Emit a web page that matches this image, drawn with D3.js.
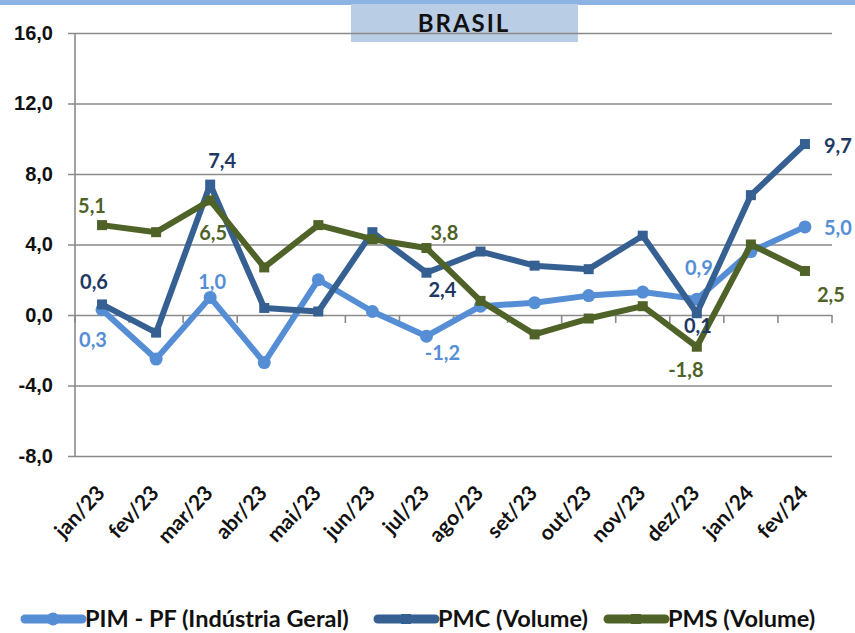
<!DOCTYPE html>
<html>
<head>
<meta charset="utf-8">
<script src="https://cdn.jsdelivr.net/npm/d3@7"></script>
<style>
  body { margin: 0; background: #fff; }
  svg { display: block; font-family: Lato, "Open Sans", sans-serif; }
</style>
</head>
<body>
<div id="chart"></div>
<script>
// monthly variation, Brasil
const months = ["jan/23","fev/23","mar/23","abr/23","mai/23","jun/23","jul/23",
                "ago/23","set/23","out/23","nov/23","dez/23","jan/24","fev/24"];
const pim = [0.3, -2.5, 1.0, -2.7, 2.0, 0.2, -1.2, 0.5, 0.7, 1.1, 1.3, 0.9, 3.6, 5.0];
const pmc = [0.6, -1.0, 7.4, 0.4, 0.2, 4.7, 2.4, 3.6, 2.8, 2.6, 4.5, 0.1, 6.8, 9.7];
const pms = [5.1, 4.7, 6.5, 2.7, 5.1, 4.3, 3.8, 0.8, -1.1, -0.2, 0.5, -1.8, 4.0, 2.5];
const yTicks = [-8, -4, 0, 4, 8, 12, 16];
const seriesNames = ["PIM - PF (Indústria Geral)", "PMC (Volume)", "PMS (Volume)"];

// which points get a value label, and where the label sits relative to the point
const labelSpots = [
  [{i: 0, dx: -9, dy: 37}, {i: 2, dx: 2, dy: -8}, {i: 6, dx: 16, dy: 24}, {i: 11, dx: 2, dy: -24}, {i: 13, dx: 33, dy: 8}],
  [{i: 0, dx: -8, dy: -15}, {i: 2, dx: 12, dy: -17}, {i: 6, dx: 16, dy: 24}, {i: 11, dx: 1, dy: 20}, {i: 13, dx: 33, dy: 9}],
  [{i: 0, dx: -10, dy: -12}, {i: 2, dx: 3, dy: 40}, {i: 6, dx: 18, dy: -8}, {i: 11, dx: -11, dy: 30}, {i: 13, dx: 26, dy: 31}]
];

const series = [
  {name: seriesNames[0], values: pim, color: "#558ed5", label: "#558ed5", marker: "circle"},
  {name: seriesNames[1], values: pmc, color: "#376092", label: "#1f3864", marker: "square"},
  {name: seriesNames[2], values: pms, color: "#4f6228", label: "#4f6228", marker: "square"}
];

const W = 855, H = 633;
const margin = {top: 33, right: 23, bottom: 177, left: 75};
const width = W - margin.left - margin.right;
const height = H - margin.top - margin.bottom;
const fmt = v => d3.format(".1f")(v).replace(".", ",").replace("−", "-");

const svg = d3.select("#chart").append("svg")
    .attr("width", W)
    .attr("height", H);

// top band + title box
svg.append("rect").attr("x", 0).attr("y", 0).attr("width", W).attr("height", 5).attr("fill", "#8db3e2");
svg.append("rect").attr("x", 351).attr("y", 4).attr("width", 227).attr("height", 38).attr("fill", "#b9cde5");
svg.append("text")
    .attr("x", 464).attr("y", 32)
    .attr("text-anchor", "middle")
    .attr("font-size", 24).attr("font-weight", "bold").attr("fill", "#111")
    .attr("letter-spacing", 2)
    .text("BRASIL");

const g = svg.append("g").attr("transform", `translate(${margin.left},${margin.top})`);

const x = d3.scaleBand().domain(months).range([0, width]);
const y = d3.scaleLinear().domain([-8, 16]).range([height, 0]);
const cx = d => x(d) + x.bandwidth() / 2;

// y axis with gridlines
const yAxis = g.append("g")
    .call(d3.axisLeft(y).tickValues(yTicks).tickSize(-width).tickPadding(22)
        .tickFormat(fmt));
yAxis.select(".domain").remove();
yAxis.selectAll(".tick line").attr("x1", -7).attr("stroke", "#8a8a8a").attr("stroke-width", 1.6);
yAxis.selectAll(".tick text").attr("font-size", 20).attr("font-weight", "bold").attr("fill", "#111");

// vertical axis line
g.append("line").attr("x1", 0).attr("x2", 0).attr("y1", 0).attr("y2", height)
    .attr("stroke", "#8a8a8a").attr("stroke-width", 1.6);

// category axis crossing at zero, ticks between categories
g.append("g").selectAll("line")
    .data(d3.range(months.length + 1))
    .join("line")
    .attr("x1", i => i * x.step()).attr("x2", i => i * x.step())
    .attr("y1", y(0)).attr("y2", y(0) + 8)
    .attr("stroke", "#8a8a8a").attr("stroke-width", 1.6);

// category labels at bottom
g.append("g").selectAll("text")
    .data(months)
    .join("text")
    .attr("transform", d => `translate(${cx(d) + 4},${height + 38}) rotate(-47)`)
    .attr("text-anchor", "end")
    .attr("font-size", 21).attr("font-weight", "bold").attr("fill", "#111")
    .text(d => d);

const line = d3.line().x((d, i) => cx(months[i])).y(d => y(d));

series.forEach(s => {
    const sg = g.append("g");
    sg.append("path")
        .datum(s.values)
        .attr("d", line)
        .attr("fill", "none")
        .attr("stroke", s.color)
        .attr("stroke-width", 6)
        .attr("stroke-linejoin", "round");
    if (s.marker === "circle") {
        sg.selectAll("circle").data(s.values).join("circle")
            .attr("cx", (d, i) => cx(months[i])).attr("cy", d => y(d))
            .attr("r", 6.5).attr("fill", s.color);
    } else {
        sg.selectAll("rect").data(s.values).join("rect")
            .attr("x", (d, i) => cx(months[i]) - 5).attr("y", d => y(d) - 5)
            .attr("width", 10).attr("height", 10).attr("fill", s.color);
    }
});

// value labels
series.forEach((s, k) => {
    g.append("g").selectAll("text")
        .data(labelSpots[k])
        .join("text")
        .attr("x", p => cx(months[p.i]) + p.dx)
        .attr("y", p => y(s.values[p.i]) + p.dy)
        .attr("text-anchor", "middle")
        .attr("font-size", 20).attr("font-weight", "bold")
        .attr("fill", s.label)
        .text(p => fmt(s.values[p.i]));
});

// legend
const legendPos = [25, 378, 608];
const lg = svg.append("g").attr("transform", `translate(0, 619)`);
series.forEach((s, k) => {
    const item = lg.append("g").attr("transform", `translate(${legendPos[k]},0)`);
    item.append("line").attr("x1", 0).attr("x2", 57).attr("y1", 0).attr("y2", 0)
        .attr("stroke", s.color).attr("stroke-width", 9).attr("stroke-linecap", "round");
    if (s.marker === "circle") {
        item.append("circle").attr("cx", 28).attr("cy", 0).attr("r", 6.5).attr("fill", s.color);
    } else {
        item.append("rect").attr("x", 23).attr("y", -5).attr("width", 10).attr("height", 10).attr("fill", s.color);
    }
    item.append("text").attr("x", 60).attr("y", 8)
        .attr("font-size", 23.5).attr("font-weight", "bold").attr("fill", "#111")
        .text(s.name);
});
</script>
</body>
</html>
